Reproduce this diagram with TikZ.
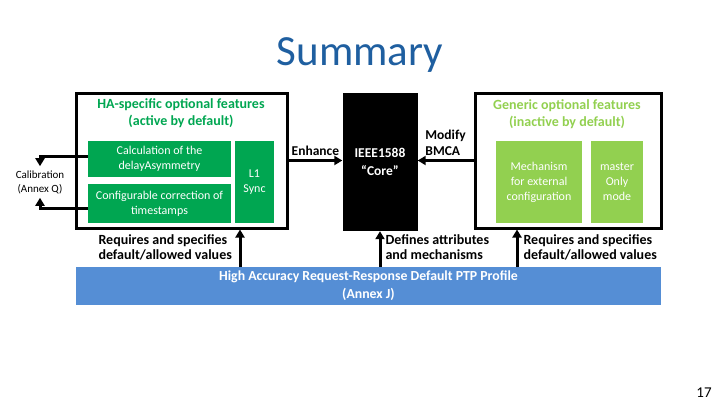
\documentclass[tikz,border=0pt]{standalone}
\usepackage{fontspec}
\setmainfont{Carlito}
\usetikzlibrary{positioning,calc,arrows.meta}

\definecolor{hagreen}{RGB}{0,166,81}
\definecolor{genericgreen}{RGB}{146,208,80}
\definecolor{profileblue}{RGB}{85,142,213}
\definecolor{titleblue}{RGB}{31,95,160}

\begin{document}
\begin{tikzpicture}[x=1pt, y=-1pt,
        outerbox/.style={draw=black, line width=3pt, inner sep=0pt},
        featurebox/.style={fill=#1, text=white, align=center, inner sep=0pt,
            font=\fontsize{12}{15}\selectfont},
        arr/.style={line width=3pt, -{Triangle[length=8pt, width=9pt]}},
        annot/.style={font=\bfseries\fontsize{14}{15}\selectfont, align=left}]
    \useasboundingbox (0,0) rectangle (720,405);
    % title and page number
    \node[font=\fontsize{43}{50}\selectfont, text=titleblue] (title) at (360,55) {Summary};
    \node[font=\fontsize{15}{18}\selectfont] (pageNo) at (704,393) {17};
    % HA-specific optional features
    \node[outerbox, minimum width=211, minimum height=135] (haBox) at (181.5,160.5) {};
    \node[font=\bfseries\fontsize{14}{17}\selectfont, text=hagreen, align=center] (haTitle) at (181,113) {HA-specific optional features\\(active by default)};
    \node[featurebox=hagreen, minimum width=143, minimum height=36] (calcDelay) at (159.5,159) {Calculation of the\\delayAsymmetry};
    \node[featurebox=hagreen, minimum width=143, minimum height=39] (confCorr) at (159.5,203.5) {Configurable correction of\\timestamps};
    \node[featurebox=hagreen, minimum width=39, minimum height=82] (lOneSync) at (254.5,182) {L1\\Sync};
    \node[font=\fontsize{11}{14}\selectfont, align=center, inner ysep=4pt] (calib) at (40,182) {Calibration\\(Annex Q)};
    % IEEE1588 core
    \node[fill=black, text=white, minimum width=75, minimum height=138, inner sep=0pt, align=center,
        font=\bfseries\fontsize{13.5}{18}\selectfont] (core) at (380,162) {IEEE1588\\“Core”};
    % Generic optional features
    \node[outerbox, minimum width=186, minimum height=135] (genBox) at (568,160.5) {};
    \node[font=\bfseries\fontsize{14}{17}\selectfont, text=genericgreen, align=center] (genTitle) at (567,114) {Generic optional features\\(inactive by default)};
    \node[featurebox=genericgreen, minimum width=86, minimum height=82] (extConf) at (539,182) {Mechanism\\for external\\configuration};
    \node[featurebox=genericgreen, minimum width=52, minimum height=82] (masterOnly) at (617,182) {master\\Only\\mode};
    % profile bar
    \node[fill=profileblue, text=white, minimum width=585, minimum height=38, inner sep=0pt, align=center,
        font=\bfseries\fontsize{13.8}{18}\selectfont] (profile) at (368.5,286) {High Accuracy Request-Response Default PTP Profile\\(Annex J)};
    % connectors
    \draw[arr] (haBox.east) -- (haBox.east -| core.west) node[midway, above, annot, font=\bfseries\fontsize{13.5}{15}\selectfont] {Enhance};
    \draw[arr] (genBox.west) -- (genBox.west -| core.east) node[midway, above, annot, font=\bfseries\fontsize{13.5}{16}\selectfont] {Modify\\BMCA};
    \draw[arr] ($(calcDelay.west)+(0,-3)$) -| (calib.north);
    \draw[arr] ($(confCorr.west)+(0,5)$) -| (calib.south);
    \coordinate (reqHA) at (240,267);
    \coordinate (reqGen) at (517,267);
    \draw[arr] (reqHA) -- (reqHA |- haBox.south);
    \draw[arr] (core.south |- profile.north) -- (core.south);
    \draw[arr] (reqGen) -- (reqGen |- genBox.south);
    % annotations
    \node[annot, anchor=west] (reqHAText) at (95,247) {Requires and specifies\\default/allowed values};
    \node[annot, anchor=west] (defText) at (382,247) {Defines attributes\\and mechanisms};
    \node[annot, anchor=west] (reqGenText) at (520,247) {Requires and specifies\\default/allowed values};
\end{tikzpicture}
\end{document}
